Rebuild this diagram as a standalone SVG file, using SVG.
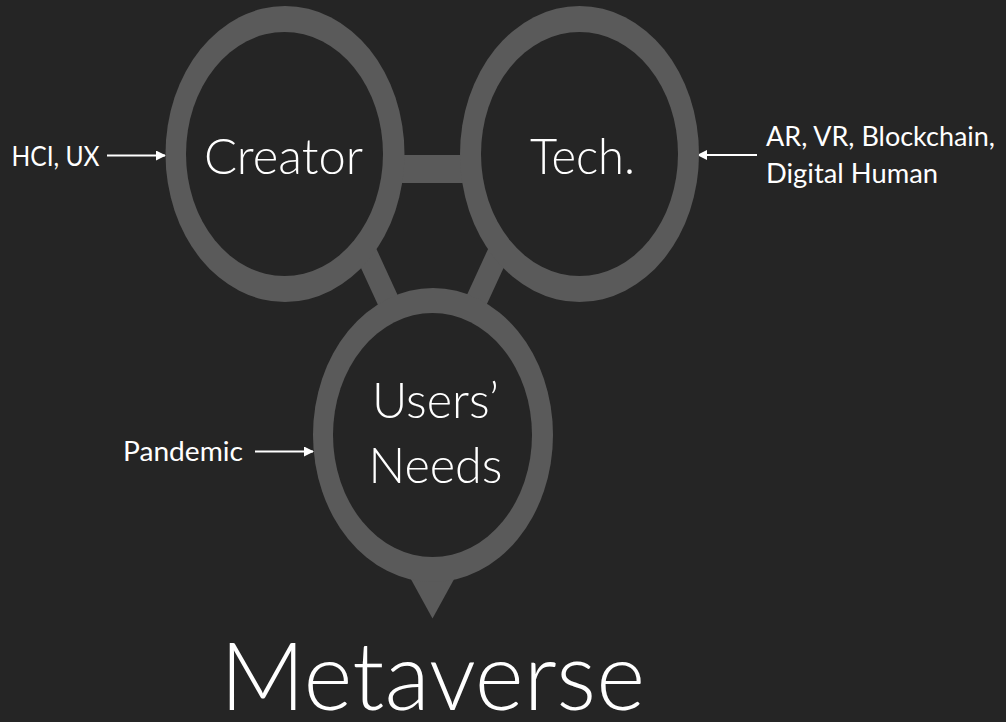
<svg xmlns="http://www.w3.org/2000/svg" width="1006" height="722" viewBox="0 0 1006 722">
  <defs>
    <style>
      .ring { fill: #5a5a5a; }
      .hole { fill: #252525; }
      .bar { stroke: #5a5a5a; stroke-width: 22; fill: none; }
      .big { font-family: "Lato", "Liberation Sans", sans-serif; font-weight: 300; fill: #ffffff; font-size: 50px; }
      .small { font-family: "Lato", "Liberation Sans", sans-serif; font-weight: 400; fill: #ffffff; font-size: 26px; }
      .title { font-family: "Lato", "Liberation Sans", sans-serif; font-weight: 300; fill: #ffffff; font-size: 95px; }
      .arrow { stroke: #ffffff; stroke-width: 2; fill: none; marker-end: url(#head); }
    </style>
    <marker id="head" viewBox="0 0 10 10" refX="9" refY="5" markerWidth="5" markerHeight="5" orient="auto" markerUnits="strokeWidth">
      <path d="M0,0 L10,5 L0,10 Z" fill="#ffffff"/>
    </marker>
  </defs>
  <rect x="0" y="0" width="1006" height="722" fill="#252525"/>

  <g id="connectors">
    <rect x="380" y="155" width="105" height="28" fill="#5a5a5a"/>
    <line class="bar" x1="355.6" y1="230" x2="401.6" y2="330"/>
    <line class="bar" x1="508.9" y1="230" x2="462.9" y2="330"/>
    <line class="arrow" x1="107" y1="155.5" x2="165" y2="155.5"/>
    <line class="arrow" x1="757" y1="155" x2="698" y2="155"/>
    <line class="arrow" x1="255" y1="451.5" x2="313" y2="451.5"/>
  </g>

  <g id="node-creator">
    <ellipse class="ring" cx="285" cy="154" rx="119.5" ry="148"/>
    <ellipse class="hole" cx="284.5" cy="154" rx="98.5" ry="122"/>
    <text class="big" x="204" y="174" textLength="159" lengthAdjust="spacingAndGlyphs">Creator</text>
  </g>

  <g id="node-tech">
    <ellipse class="ring" cx="579.5" cy="154" rx="119.5" ry="148"/>
    <ellipse class="hole" cx="579.5" cy="154" rx="98.5" ry="122"/>
    <text class="big" x="530" y="174" textLength="105" lengthAdjust="spacingAndGlyphs">Tech.</text>
  </g>

  <g id="node-users">
    <path class="ring" d="M407,572 L458,572 L432.5,618.5 Z"/>
    <ellipse class="ring" cx="433" cy="435" rx="120" ry="147"/>
    <ellipse class="hole" cx="432.5" cy="435" rx="99.5" ry="122"/>
    <text class="big" x="372" y="418" textLength="127" lengthAdjust="spacingAndGlyphs">Users’</text>
    <text class="big" x="368.5" y="483" textLength="134" lengthAdjust="spacingAndGlyphs">Needs</text>
  </g>

  <g id="label-hci">
    <text class="small" x="11.5" y="166" textLength="88" lengthAdjust="spacingAndGlyphs">HCI, UX</text>
  </g>

  <g id="label-tech-inputs">
    <text class="small" x="766" y="146" textLength="229" lengthAdjust="spacingAndGlyphs">AR, VR, Blockchain,</text>
    <text class="small" x="766" y="182.5" textLength="172" lengthAdjust="spacingAndGlyphs">Digital Human</text>
  </g>

  <g id="label-pandemic">
    <text class="small" x="123" y="460.5" textLength="120" lengthAdjust="spacingAndGlyphs">Pandemic</text>
  </g>

  <g id="node-metaverse">
    <text class="title" x="220" y="710" textLength="425" lengthAdjust="spacingAndGlyphs">Metaverse</text>
  </g>
</svg>
